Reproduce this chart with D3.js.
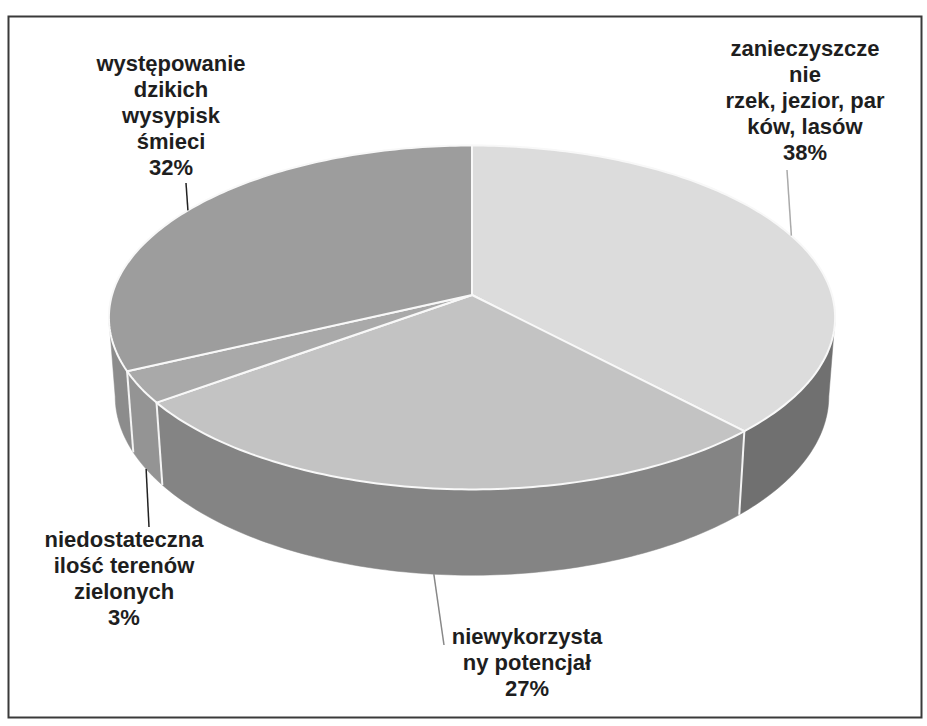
<!DOCTYPE html>
<html>
<head>
<meta charset="utf-8">
<script src="https://cdn.jsdelivr.net/npm/d3@7"></script>
<style>
  body { margin: 0; background: #fff; }
  svg { display: block; }
</style>
</head>
<body>
<div id="chart"></div>
<script>
const width = 927;
const height = 726;

// dane
const categories = [
  "zanieczyszczenie rzek, jezior, parków, lasów",
  "niewykorzystany potencjał",
  "niedostateczna ilość terenów zielonych",
  "występowanie dzikich wysypisk śmieci"
];
const values = [38, 27, 3, 32];
const labelLines = [
  ["zanieczyszcze", "nie", "rzek, jezior, par", "ków, lasów"],
  ["niewykorzysta", "ny potencjał"],
  ["niedostateczna", "ilość terenów", "zielonych"],
  ["występowanie", "dzikich", "wysypisk", "śmieci"]
];

// kolory (szarości jak na skanie)
const topColors = ["#dcdcdc", "#c3c3c3", "#a9a9a9", "#9d9d9d"];
const sideColors = ["#707070", "#848484", "#949494", "#8c8c8c"];

// rozmieszczenie etykiet: środek x, pierwsza linia bazowa, koniec linii odniesienia
const labelLayout = [
  { x: 805, y: 56, lx: 787, ly: 170, stroke: "#aaa" },
  { x: 527, y: 644, lx: 444, ly: 645, stroke: "#888" },
  { x: 124, y: 547, lx: 149, ly: 527, stroke: "#222" },
  { x: 171, y: 71, lx: 186, ly: 183, stroke: "#222" }
];
const lineHeight = 26;

// geometria walca w perspektywie
const cx = 472, cy = 295, R = 360;
const tilt = 28 * Math.PI / 180;
const depth = 0.25;     // grubość
const D = 6.76;         // odległość kamery
const sinT = Math.sin(tilt), cosT = Math.cos(tilt);

function proj(a, w) {
  const u = Math.sin(a), v = -Math.cos(a);
  const Y = v * sinT + w * cosT;
  const Z = v * cosT - w * sinT;
  const f = D / (D - Z);
  return [cx + R * u * f, cy + R * Y * f];
}

const pie = d3.pie().sort(null).value(d => d);
const arcs = pie(values);

// kąty sylwetki (skrajne x obrzeża)
const samples = d3.range(0, 2 * Math.PI, Math.PI / 720);
const aRight = samples[d3.maxIndex(samples, a => proj(a, 0)[0])];
const aLeft = samples[d3.minIndex(samples, a => proj(a, 0)[0])];

function arcPts(a0, a1, w) {
  const n = Math.max(2, Math.ceil((a1 - a0) / (Math.PI / 180)));
  return d3.range(n + 1).map(i => proj(a0 + (a1 - a0) * i / n, w));
}

const line = d3.line().curve(d3.curveLinear);

const svg = d3.create("svg")
    .attr("width", width)
    .attr("height", height)
    .attr("viewBox", `0 0 ${width} ${height}`);

svg.append("rect")
    .attr("width", width).attr("height", height)
    .attr("fill", "#fff");

// ramka
svg.append("rect")
    .attr("x", 8.5).attr("y", 16.5)
    .attr("width", 913).attr("height", 701)
    .attr("fill", "none")
    .attr("stroke", "#3a3a3a")
    .attr("stroke-width", 2);

// ściany boczne
const walls = svg.append("g");
arcs.forEach((d, i) => {
  const a0 = Math.max(d.startAngle, aRight);
  const a1 = Math.min(d.endAngle, aLeft);
  if (a1 <= a0) return;
  const top = arcPts(a0, a1, 0);
  const bottom = arcPts(a0, a1, depth).reverse();
  walls.append("path")
      .attr("d", line(top.concat(bottom)) + "Z")
      .attr("fill", sideColors[i])
      .attr("stroke", sideColors[i])
      .attr("stroke-width", 0.5);
});

// szwy między wycinkami na ścianie
arcs.forEach(d => {
  const a = d.endAngle;
  if (a > aRight && a < aLeft) {
    walls.append("line")
        .attr("x1", proj(a, 0)[0]).attr("y1", proj(a, 0)[1])
        .attr("x2", proj(a, depth)[0]).attr("y2", proj(a, depth)[1])
        .attr("stroke", "#f4f4f4")
        .attr("stroke-width", 2);
  }
});

// powierzchnia górna
const tops = svg.append("g");
arcs.forEach((d, i) => {
  const pts = [proj(0, 0).map((c, k) => k === 0 ? cx : cy)]
      .concat(arcPts(d.startAngle, d.endAngle, 0));
  tops.append("path")
      .attr("d", line(pts) + "Z")
      .attr("fill", topColors[i])
      .attr("stroke", "#f8f8f8")
      .attr("stroke-width", 2)
      .attr("stroke-linejoin", "round");
});

// linie odniesienia i etykiety
const labels = svg.append("g")
    .attr("font-family", "'Liberation Sans', Arial, sans-serif")
    .attr("font-weight", "bold")
    .attr("font-size", 22)
    .attr("fill", "#1e1e1e")
    .attr("text-anchor", "middle");

arcs.forEach((d, i) => {
  const mid = (d.startAngle + d.endAngle) / 2;
  const front = -Math.cos(mid) > 0;
  const p = proj(mid, front ? depth : 0);
  const L = labelLayout[i];
  svg.append("line")
      .attr("x1", p[0]).attr("y1", p[1])
      .attr("x2", L.lx).attr("y2", L.ly)
      .attr("stroke", L.stroke)
      .attr("stroke-width", 1.5);

  const t = labels.append("text");
  labelLines[i].concat([`${values[i]}%`]).forEach((s, k) => {
    t.append("tspan")
        .attr("x", L.x)
        .attr("y", L.y + k * lineHeight)
        .text(s);
  });
});

document.getElementById("chart").appendChild(svg.node());
</script>
</body>
</html>
